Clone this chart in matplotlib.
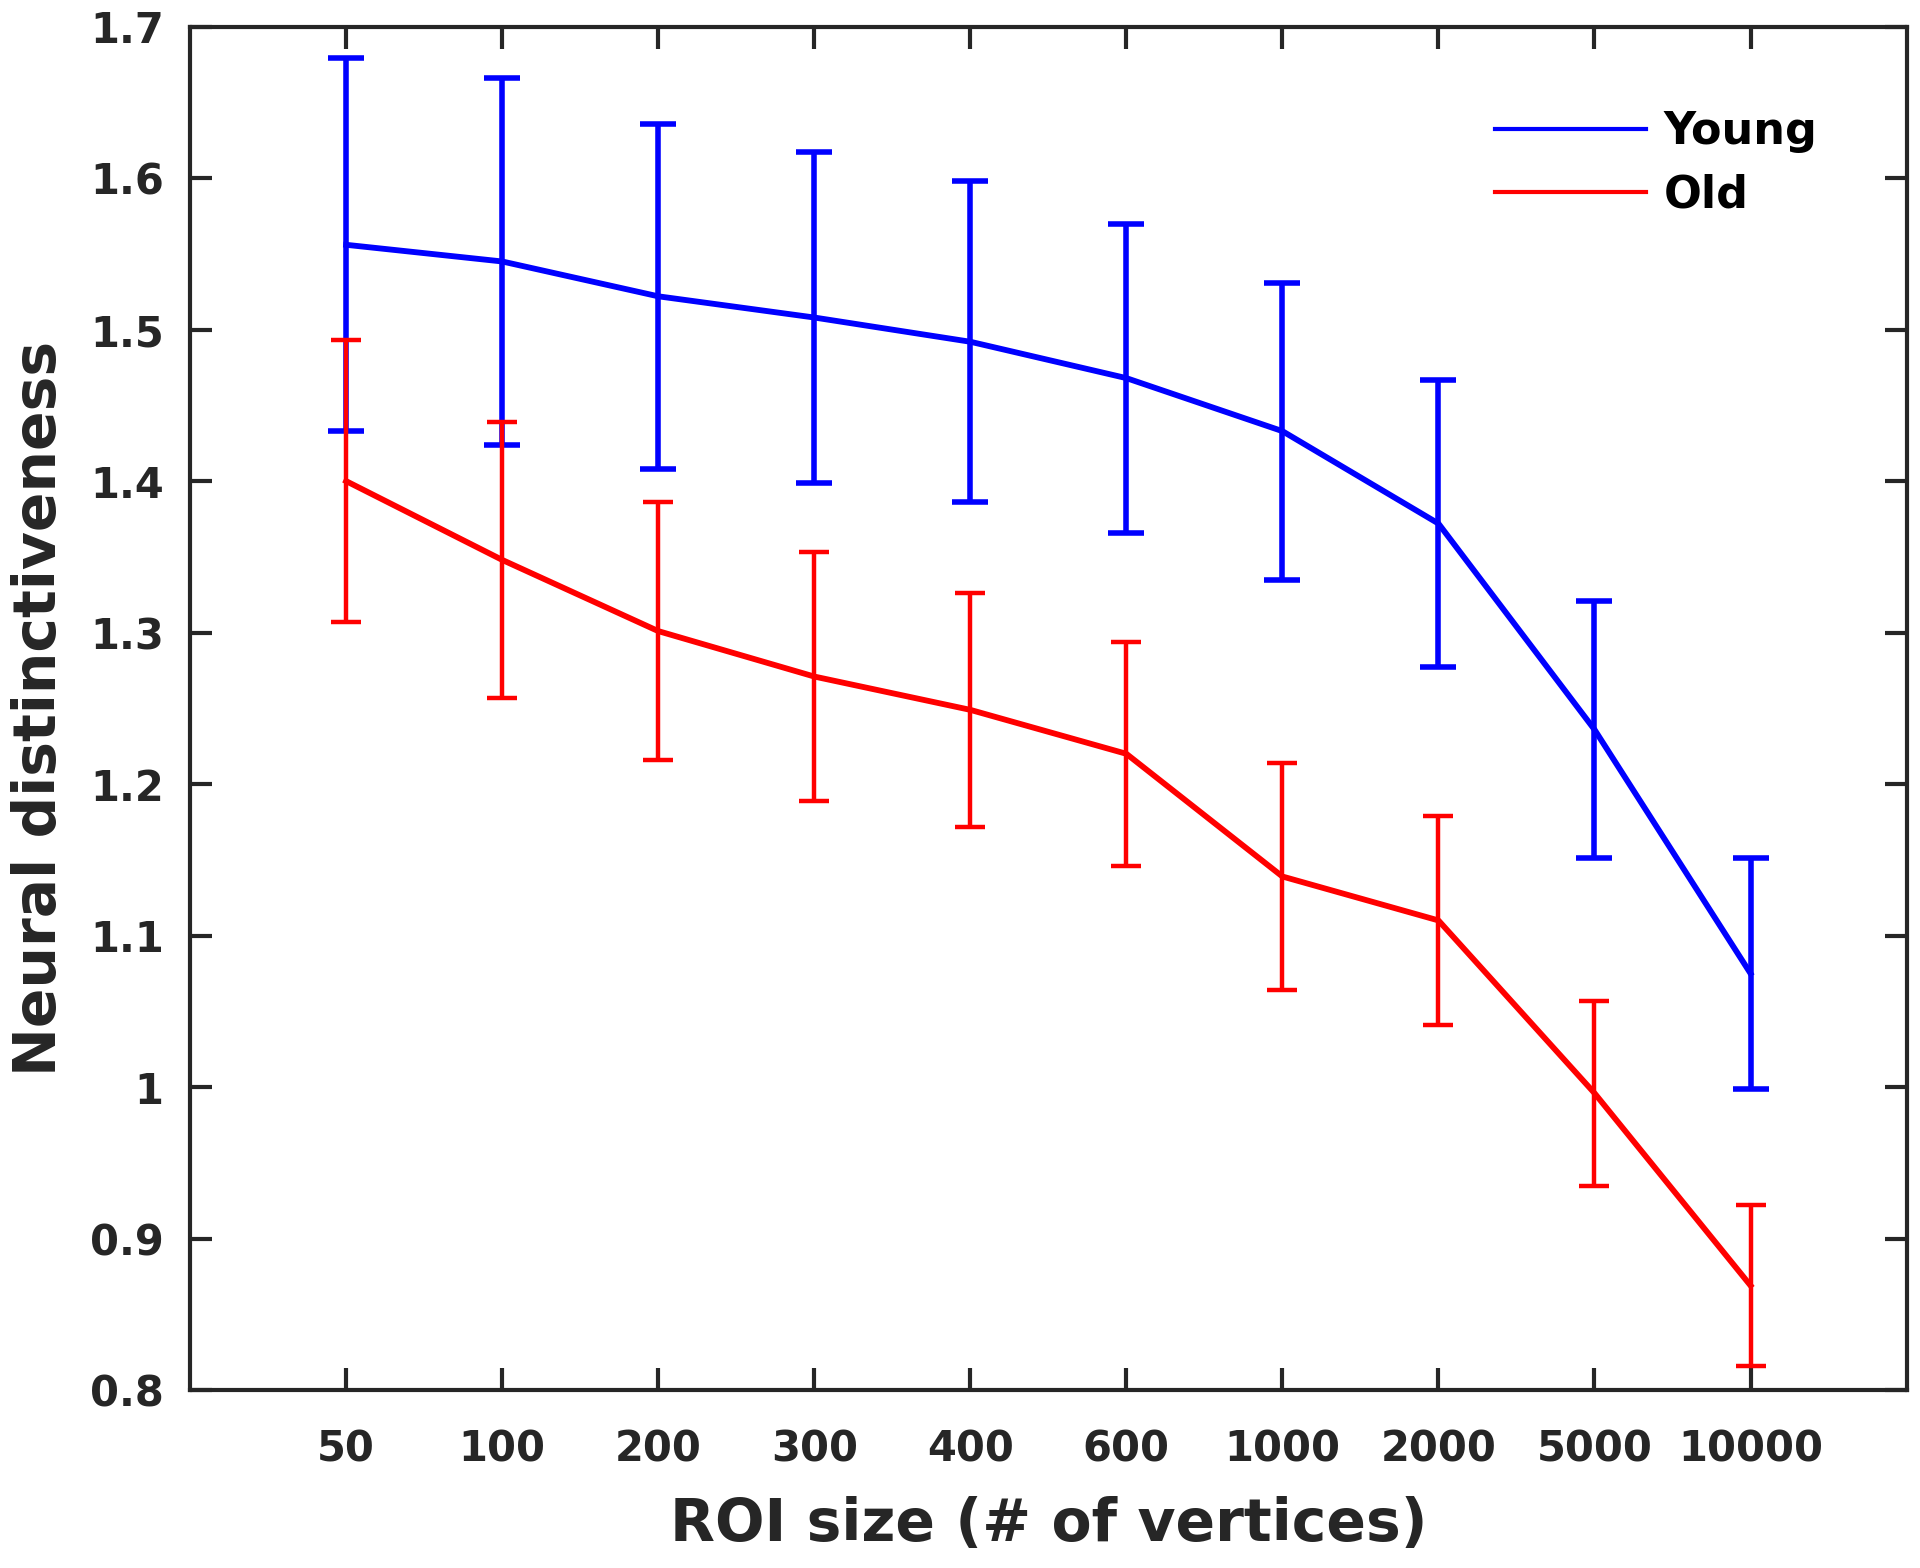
import matplotlib
matplotlib.use("Agg")
import matplotlib.pyplot as plt
from matplotlib.lines import Line2D
from matplotlib.ticker import FuncFormatter

# ROI sizes (categorical x positions)
roi_sizes = ["50", "100", "200", "300", "400", "600", "1000", "2000", "5000", "10000"]

# Young group: mean and error
young_mean = [1.556, 1.545, 1.522, 1.508, 1.492, 1.468, 1.433, 1.372, 1.236, 1.075]
young_err = [0.123, 0.121, 0.114, 0.109, 0.106, 0.102, 0.098, 0.095, 0.085, 0.076]

# Old group: mean and error
old_mean = [1.400, 1.348, 1.301, 1.271, 1.249, 1.220, 1.139, 1.110, 0.996, 0.869]
old_err = [0.093, 0.091, 0.085, 0.082, 0.077, 0.074, 0.075, 0.069, 0.061, 0.053]

text_color = "#262626"
plt.rcParams["font.family"] = ["DejaVu Sans"]
plt.rcParams["font.weight"] = "bold"

fig = plt.figure(figsize=(19.2, 15.68), dpi=100)
ax = fig.add_axes([0.099, 0.1135, 0.894, 0.8695])

x = list(range(1, len(roi_sizes) + 1))

ax.errorbar(x, young_mean, yerr=young_err, color="blue", lw=4.2,
            elinewidth=4.0, capsize=13, capthick=4.0)
ax.errorbar(x, old_mean, yerr=old_err, color="red", lw=4.2,
            elinewidth=3.2, capsize=11, capthick=3.2)

ax.set_xlim(0, 11)
ax.set_ylim(0.8, 1.7)
ax.set_xticks(x)
ax.set_xticklabels(roi_sizes)
ax.set_yticks([0.8 + 0.1 * i for i in range(10)])
ax.yaxis.set_major_formatter(FuncFormatter(lambda v, p: "%g" % round(v, 1)))

ax.tick_params(direction="in", length=16, width=3, colors=text_color,
               labelsize=30, top=True, right=True)
ax.tick_params(axis="x", pad=28)
ax.tick_params(axis="y", pad=19)
for lab in ax.get_xticklabels() + ax.get_yticklabels():
    lab.set_fontweight("bold")
for s in ax.spines.values():
    s.set_linewidth(3)
    s.set_color(text_color)

ax.set_xlabel("ROI size (# of vertices)", fontsize=42, fontweight="bold",
              color=text_color, labelpad=18)
ax.set_ylabel("Neural distinctiveness", fontsize=42, fontweight="bold",
              color=text_color, labelpad=16)

handles = [Line2D([], [], color="blue", lw=3), Line2D([], [], color="red", lw=3)]
leg = ax.legend(handles, ["Young", "Old"], loc="upper left",
                bbox_to_anchor=(0.747, 0.955), frameon=False,
                fontsize=32, handlelength=3.4, handletextpad=0.4,
                labelspacing=0.45, borderpad=0)
for t in leg.get_texts():
    t.set_fontweight("bold")
    t.set_color("black")

fig.savefig("out.png", dpi=100)
